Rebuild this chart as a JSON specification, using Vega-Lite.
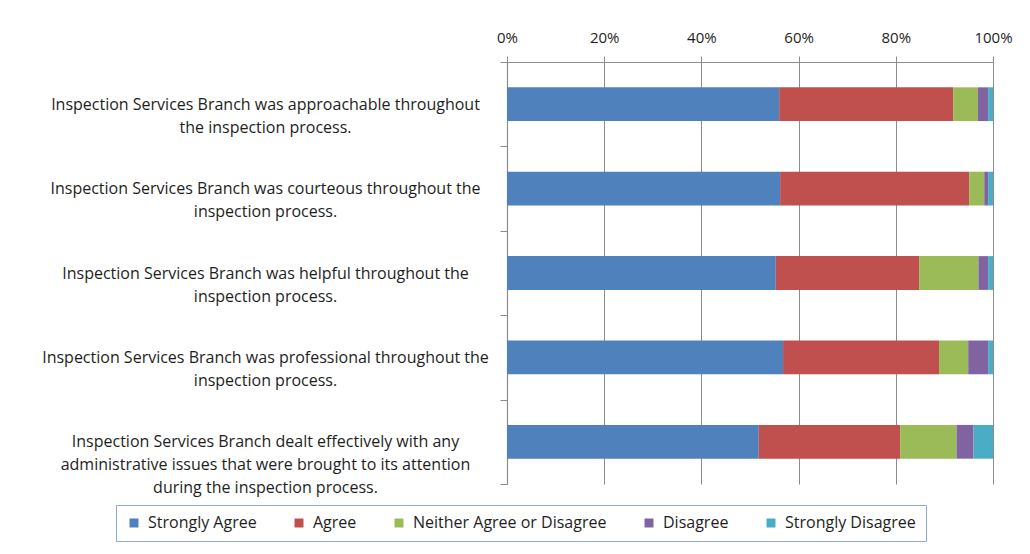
{
  "$schema": "https://vega.github.io/schema/vega-lite/v6.json",
  "width": 486,
  "height": 422,
  "autosize": {"type": "none"},
  "padding": {"left": 507, "top": 62, "right": 37, "bottom": 70},
  "background": "white",
  "config": {"view": {"stroke": null}, "font": "Open Sans"},
  "data": {
    "values": [
      {"statement": "Inspection Services Branch was approachable throughout|the inspection process.", "response": "Strongly Agree", "rank": 1, "pct": 56.0},
      {"statement": "Inspection Services Branch was approachable throughout|the inspection process.", "response": "Agree", "rank": 2, "pct": 35.8},
      {"statement": "Inspection Services Branch was approachable throughout|the inspection process.", "response": "Neither Agree or Disagree", "rank": 3, "pct": 5.1},
      {"statement": "Inspection Services Branch was approachable throughout|the inspection process.", "response": "Disagree", "rank": 4, "pct": 2.1},
      {"statement": "Inspection Services Branch was approachable throughout|the inspection process.", "response": "Strongly Disagree", "rank": 5, "pct": 1.0},
      {"statement": "Inspection Services Branch was courteous throughout the|inspection process.", "response": "Strongly Agree", "rank": 1, "pct": 56.2},
      {"statement": "Inspection Services Branch was courteous throughout the|inspection process.", "response": "Agree", "rank": 2, "pct": 38.9},
      {"statement": "Inspection Services Branch was courteous throughout the|inspection process.", "response": "Neither Agree or Disagree", "rank": 3, "pct": 3.1},
      {"statement": "Inspection Services Branch was courteous throughout the|inspection process.", "response": "Disagree", "rank": 4, "pct": 0.8},
      {"statement": "Inspection Services Branch was courteous throughout the|inspection process.", "response": "Strongly Disagree", "rank": 5, "pct": 1.0},
      {"statement": "Inspection Services Branch was helpful throughout the|inspection process.", "response": "Strongly Agree", "rank": 1, "pct": 55.3},
      {"statement": "Inspection Services Branch was helpful throughout the|inspection process.", "response": "Agree", "rank": 2, "pct": 29.5},
      {"statement": "Inspection Services Branch was helpful throughout the|inspection process.", "response": "Neither Agree or Disagree", "rank": 3, "pct": 12.2},
      {"statement": "Inspection Services Branch was helpful throughout the|inspection process.", "response": "Disagree", "rank": 4, "pct": 2.0},
      {"statement": "Inspection Services Branch was helpful throughout the|inspection process.", "response": "Strongly Disagree", "rank": 5, "pct": 1.0},
      {"statement": "Inspection Services Branch was professional throughout the|inspection process.", "response": "Strongly Agree", "rank": 1, "pct": 56.8},
      {"statement": "Inspection Services Branch was professional throughout the|inspection process.", "response": "Agree", "rank": 2, "pct": 32.1},
      {"statement": "Inspection Services Branch was professional throughout the|inspection process.", "response": "Neither Agree or Disagree", "rank": 3, "pct": 6.0},
      {"statement": "Inspection Services Branch was professional throughout the|inspection process.", "response": "Disagree", "rank": 4, "pct": 4.1},
      {"statement": "Inspection Services Branch was professional throughout the|inspection process.", "response": "Strongly Disagree", "rank": 5, "pct": 1.0},
      {"statement": "Inspection Services Branch dealt effectively with any|administrative issues that were brought to its attention|during the inspection process.", "response": "Strongly Agree", "rank": 1, "pct": 51.8},
      {"statement": "Inspection Services Branch dealt effectively with any|administrative issues that were brought to its attention|during the inspection process.", "response": "Agree", "rank": 2, "pct": 29.1},
      {"statement": "Inspection Services Branch dealt effectively with any|administrative issues that were brought to its attention|during the inspection process.", "response": "Neither Agree or Disagree", "rank": 3, "pct": 11.6},
      {"statement": "Inspection Services Branch dealt effectively with any|administrative issues that were brought to its attention|during the inspection process.", "response": "Disagree", "rank": 4, "pct": 3.5},
      {"statement": "Inspection Services Branch dealt effectively with any|administrative issues that were brought to its attention|during the inspection process.", "response": "Strongly Disagree", "rank": 5, "pct": 4.0}
    ]
  },
  "mark": {"type": "bar", "height": {"band": 0.4}},
  "encoding": {
    "y": {
      "field": "statement",
      "type": "nominal",
      "sort": null,
      "scale": {"paddingInner": 0, "paddingOuter": 0},
      "axis": {
        "title": null,
        "labelExpr": "split(datum.label, '|')",
        "labelAlign": "center",
        "labelBaseline": "middle",
        "labelPadding": 235,
        "labelLimit": 0,
        "labelFont": "Open Sans",
        "labelFontSize": 16,
        "labelColor": "#1e1e1e",
        "labelLineHeight": 23,
        "tickBand": "extent",
        "tickSize": 7,
        "tickColor": "#8c8c8c",
        "domainColor": "#8c8c8c",
        "domainWidth": 1.2,
        "grid": false
      }
    },
    "x": {
      "field": "pct",
      "type": "quantitative",
      "stack": "normalize",
      "scale": {"domain": [0, 1], "nice": false},
      "axis": {
        "orient": "top",
        "format": "%",
        "values": [0, 0.2, 0.4, 0.6, 0.8, 1],
        "title": null,
        "grid": true,
        "gridColor": "#8c8c8c",
        "tickColor": "#8c8c8c",
        "domainColor": "#8c8c8c",
        "tickSize": 6,
        "labelPadding": 11,
        "labelFont": "Open Sans",
        "labelFontSize": 15,
        "labelColor": "#1e1e1e",
        "labelFlush": false
      }
    },
    "color": {
      "field": "response",
      "type": "nominal",
      "scale": {
        "domain": ["Strongly Agree", "Agree", "Neither Agree or Disagree", "Disagree", "Strongly Disagree"],
        "range": ["#4f81bd", "#c0504d", "#9bbb59", "#8064a2", "#4bacc6"]
      },
      "legend": {
        "title": null,
        "orient": "none",
        "legendX": -391,
        "legendY": 443,
        "direction": "horizontal",
        "symbolType": "square",
        "symbolSize": 81,
        "symbolStrokeWidth": 0,
        "labelFont": "Open Sans",
        "labelFontSize": 16,
        "labelLimit": 0,
        "labelColor": "#1e1e1e",
        "labelOffset": 6,
        "columnPadding": 34,
        "padding": 10,
        "strokeColor": "#8eaadb"
      }
    },
    "order": {"field": "rank", "type": "quantitative"}
  }
}
